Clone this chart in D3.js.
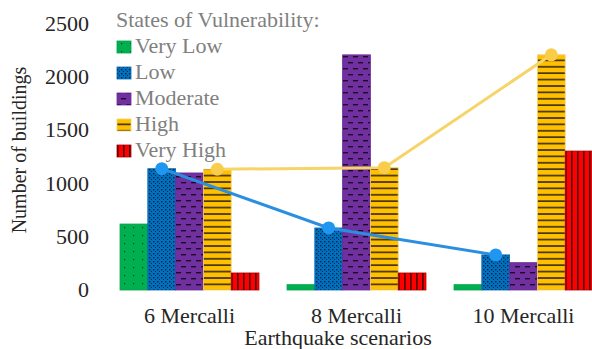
<!DOCTYPE html>
<html>
<head>
<meta charset="utf-8">
<script src="https://cdn.jsdelivr.net/npm/d3@7"></script>
<style>
  html, body { margin: 0; padding: 0; background: #fff; }
  svg { display: block; }
</style>
</head>
<body>
<svg id="chart" width="592" height="349" font-family="Liberation Serif"></svg>
<script>
// Scenarios on the x axis
const scenarios = ["6 Mercalli", "8 Mercalli", "10 Mercalli"];
// Vulnerability classes (one bar per class in each scenario)
const classes = ["Very Low", "Low", "Moderate", "High", "Very High"];
// Number of buildings per class, one entry per scenario
const veryLow  = [620, 50, 50];
const low      = [1140, 583, 330];
const moderate = [1100, 2210, 257];
const high     = [1135, 1150, 2210];
const veryHigh = [160, 160, 1306];
const yTicks = [0, 500, 1000, 1500, 2000, 2500];

const seriesValues = [veryLow, low, moderate, high, veryHigh];
const fills = ["#00b050", "#0070c0", "#7030a0", "#ffc000", "#ff0000"];
const strokes = ["#00a048", "#0868b0", "#6a2c98", "#f5d36a", "#b00000"];
const patternIds = ["pVeryLow", "pLow", "pModerate", "pHigh", "pVeryHigh"];

const svg = d3.select("#chart");
const sx = 1.1; // horizontal stretch of the serif lettering
const serif = "Liberation Serif";

const x0 = d3.scaleBand().domain(scenarios).range([106, 607]).paddingInner(0.168).paddingOuter(0.084);
const x1 = d3.scaleBand().domain(classes).range([0, x0.bandwidth()]);
const y = d3.scaleLinear().domain([0, 2500]).range([290, 24]);

// Fill patterns
const defs = svg.append("defs");
function pattern(id, w, h, bg, draw) {
  const p = defs.append("pattern").attr("id", id).attr("patternUnits", "userSpaceOnUse")
    .attr("width", w).attr("height", h);
  p.append("rect").attr("width", w).attr("height", h).attr("fill", bg);
  draw(p);
}
pattern("pVeryLow", 9, 8, fills[0], p => {
  p.append("rect").attr("x", 4).attr("y", 3).attr("width", 1.2).attr("height", 1.2).attr("fill", "#1a3a20");
});
pattern("pLow", 4, 4, fills[1], p => {
  p.append("rect").attr("x", 1).attr("y", 1).attr("width", 1.4).attr("height", 1.4).attr("fill", "#0a2440");
  p.append("rect").attr("x", 3).attr("y", 3).attr("width", 1.2).attr("height", 1.2).attr("fill", "#0a2440");
});
pattern("pModerate", 10, 12, fills[2], p => {
  p.append("rect").attr("x", 1).attr("y", 2).attr("width", 5).attr("height", 1.4).attr("fill", "#1c0a24");
  p.append("rect").attr("x", 6).attr("y", 8).attr("width", 5).attr("height", 1.4).attr("fill", "#1c0a24");
  p.append("rect").attr("x", -4).attr("y", 8).attr("width", 5).attr("height", 1.4).attr("fill", "#1c0a24");
});
pattern("pHigh", 8, 6.4, fills[3], p => {
  p.append("rect").attr("x", 0).attr("y", 2).attr("width", 8).attr("height", 1.6).attr("fill", "#3a2a12");
});
pattern("pVeryHigh", 6, 8, fills[4], p => {
  p.append("rect").attr("x", 3).attr("y", 0).attr("width", 1.6).attr("height", 8).attr("fill", "#4a0000");
});

// Bars
const rows = scenarios.map((s, i) => ({ scenario: s, values: classes.map((c, k) => ({ cls: c, k, v: seriesValues[k][i] })) }));
const groups = svg.append("g").selectAll("g").data(rows).join("g")
  .attr("transform", d => `translate(${x0(d.scenario)},0)`);
groups.selectAll("rect").data(d => d.values).join("rect")
  .attr("x", d => x1(d.cls))
  .attr("y", d => y(d.v))
  .attr("width", x1.bandwidth())
  .attr("height", d => y(0) - y(d.v))
  .attr("fill", d => `url(#${patternIds[d.k]})`)
  .attr("stroke", d => strokes[d.k])
  .attr("stroke-width", 0.8);

// Trend lines through the Low and High bars
function trend(k, color, dot) {
  const pts = scenarios.map((s, i) => [x0(s) + x1(classes[k]) + x1.bandwidth() / 2, y(seriesValues[k][i])]);
  svg.append("path").attr("d", d3.line()(pts)).attr("fill", "none")
    .attr("stroke", color).attr("stroke-width", 3);
  svg.append("g").selectAll("circle").data(pts).join("circle")
    .attr("cx", d => d[0]).attr("cy", d => d[1]).attr("r", 6.5).attr("fill", dot);
}
trend(3, "#f7d468", "#f9cd4a");
trend(1, "#2a8fe0", "#1f97f0");

// Stretched text helper
function label(g, x, yy, str, anchor, color, size) {
  return g.append("text").attr("transform", `translate(${x},${yy}) scale(${sx},1)`)
    .attr("font-family", serif)
    .attr("text-anchor", anchor).attr("fill", color).attr("font-size", size).text(str);
}

// Y axis labels
const yAxis = svg.append("g");
yTicks.forEach(t => label(yAxis, 89, y(t) + 7, d3.format("d")(t), "end", "#262626", 20));

// X axis labels
const xAxis = svg.append("g");
scenarios.forEach(s => label(xAxis, x0(s) + x0.bandwidth() / 2, 323, s, "middle", "#262626", 20));

// Axis titles
label(svg, 338, 345, "Earthquake scenarios", "middle", "#262626", 20);
svg.append("text").attr("transform", "translate(26,150) rotate(-90)")
  .attr("font-family", serif)
  .attr("text-anchor", "middle").attr("fill", "#262626").attr("font-size", 20).text("Number of buildings");

// Legend
const legend = svg.append("g");
label(legend, 116, 27, "States of Vulnerability:", "start", "#808080", 20);
classes.forEach((c, k) => {
  const cy = 53 + k * 26;
  legend.append("rect").attr("x", 117).attr("y", cy - 12).attr("width", 14).attr("height", 12)
    .attr("fill", `url(#${patternIds[k]})`).attr("stroke", strokes[k]).attr("stroke-width", 0.8);
  label(legend, 135, cy, c, "start", "#808080", 20);
});
</script>
</body>
</html>
